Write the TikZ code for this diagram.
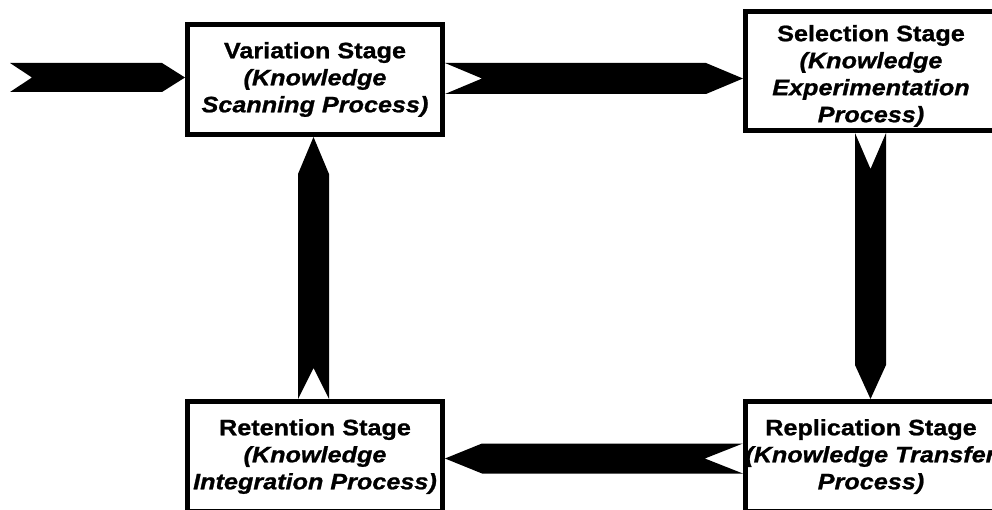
\documentclass[tikz,border=0pt]{standalone}
\usepackage{fontspec}
\newfontfamily\boxfont{Liberation Sans}[FakeStretch=1.13,FakeBold=1]
\usetikzlibrary{calc}

\tikzset{
  stagebox/.style={draw=black, line width=5pt, fill=white, rectangle,
    inner sep=0pt, align=center,
    font=\boxfont\fontsize{22.3}{27}\selectfont\bfseries},
}

% Fat block arrow with a notched tail, from #1 (tail) to #2 (tip);
% #3 half width, #4 head length, #5 notch depth.
\newcommand\fatarrow[5]{%
  \coordinate (fa-s) at ($(#2)!#4!(#1)$);
  \coordinate (fa-n) at ($(#1)!#5!(#2)$);
  \fill[black] ($(#1)!#3!90:(#2)$) -- ($(fa-s)!#3!90:(#2)$) -- (#2)
    -- ($(fa-s)!#3!-90:(#2)$) -- ($(#1)!#3!-90:(#2)$) -- (fa-n) -- cycle;}

\begin{document}
\begin{tikzpicture}[x=1pt,y=-1pt]
  \clip (0,0) rectangle (992,510);
  \fill[white] (0,0) rectangle (992,510);

  % stages
  \node[stagebox, minimum width=255pt, minimum height=110pt] (v) at (315,79.5)
    {Variation Stage\\\textit{(Knowledge}\\\textit{Scanning Process)}};
  \node[stagebox, minimum width=251pt, minimum height=119pt] (s) at (871,71)
    {\rule{0pt}{26pt}Selection Stage\\\textit{(Knowledge}\\\textit{Experimentation}\\\textit{Process)}};
  \node[stagebox, minimum width=251pt, minimum height=110pt] (p) at (871,456.5)
    {Replication Stage\\\textit{(Knowledge Transfer}\\\textit{Process)}};
  \node[stagebox, minimum width=255pt, minimum height=110pt] (r) at (315,456.5)
    {Retention Stage\\\textit{(Knowledge}\\\textit{Integration Process)}};

  % incoming arrow
  \coordinate (inTail) at (10,77.5);
  \coordinate (inTip) at (v.west |- inTail);
  \fatarrow{inTail}{inTip}{14.5pt}{23pt}{22pt}

  % variation -> selection
  \coordinate (ta) at (0,78.5);
  \coordinate (vsA) at (v.east |- ta);
  \coordinate (vsB) at (s.west |- ta);
  \fatarrow{vsA}{vsB}{15.5pt}{37pt}{37pt}

  % selection -> replication
  \coordinate (rd) at (870.5,0);
  \coordinate (spA) at (s.south -| rd);
  \coordinate (spB) at (p.north -| rd);
  \fatarrow{spA}{spB}{15.5pt}{34pt}{36pt}

  % replication -> retention
  \coordinate (bl) at (0,458.5);
  \coordinate (prA) at (p.west |- bl);
  \coordinate (prB) at (r.east |- bl);
  \fatarrow{prA}{prB}{15pt}{37pt}{38pt}

  % retention -> variation
  \coordinate (lu) at (313.5,0);
  \coordinate (rvA) at (r.north -| lu);
  \coordinate (rvB) at (v.south -| lu);
  \fatarrow{rvA}{rvB}{15.5pt}{37pt}{31pt}
\end{tikzpicture}
\end{document}
